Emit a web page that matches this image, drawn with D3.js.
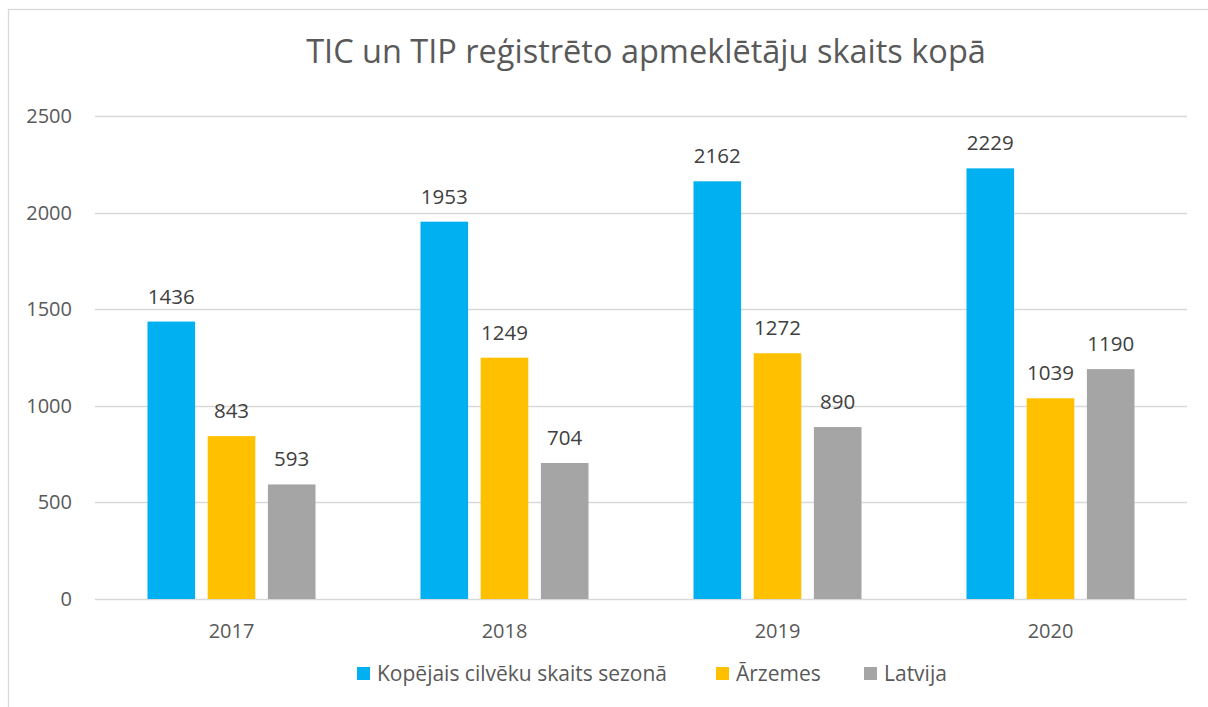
<!DOCTYPE html>
<html>
<head>
<meta charset="utf-8">
<script src="https://cdn.jsdelivr.net/npm/d3@7"></script>
<style>
  html, body { margin: 0; padding: 0; background: #fff; }
  svg { display: block; font-family: "Open Sans", sans-serif; }
</style>
</head>
<body>
<div id="chart"></div>
<script>
var years = ["2017", "2018", "2019", "2020"];
var seriesNames = ["Kopējais cilvēku skaits sezonā", "Ārzemes", "Latvija"];
var totalValues = [1436, 1953, 2162, 2229];
var foreignValues = [843, 1249, 1272, 1039];
var latviaValues = [593, 704, 890, 1190];
var yTicks = [0, 500, 1000, 1500, 2000, 2500];
var colors = ["#00B0F0", "#FFC000", "#A5A5A5"];

var W = 1208, H = 707;
var plot = { left: 95, right: 1187, top: 116, bottom: 599 };

var svg = d3.select("#chart")
    .append("svg")
    .attr("width", W)
    .attr("height", H);

// chart area border
svg.append("rect")
    .attr("x", 8.5)
    .attr("y", 9.5)
    .attr("width", W + 20)
    .attr("height", H + 20)
    .attr("fill", "#fff")
    .attr("stroke", "#d9d9d9")
    .attr("stroke-width", 1.3);

svg.append("text")
    .attr("x", 646)
    .attr("y", 63)
    .attr("text-anchor", "middle")
    .attr("fill", "#595959")
    .attr("font-size", 32.5)
    .text("TIC un TIP reģistrēto apmeklētāju skaits kopā");

var y = d3.scaleLinear()
    .domain([0, 2500])
    .range([plot.bottom, plot.top]);

var x0 = d3.scaleBand()
    .domain(years)
    .range([plot.left, plot.right])
    .paddingInner(0.3846)
    .paddingOuter(0.1923);

var x1 = d3.scaleBand()
    .domain(d3.range(3))
    .range([0, x0.bandwidth()])
    .paddingInner(0.209)
    .paddingOuter(0);

// gridlines
svg.append("g")
    .selectAll("line")
    .data(yTicks)
    .enter()
    .append("line")
    .attr("x1", plot.left)
    .attr("x2", plot.right)
    .attr("y1", function (d) { return Math.round(y(d)) + 0.5; })
    .attr("y2", function (d) { return Math.round(y(d)) + 0.5; })
    .attr("stroke", "#d9d9d9")
    .attr("stroke-width", 1.3);

// y axis labels
var yAxis = svg.append("g")
    .attr("transform", "translate(" + plot.left + ",0)")
    .call(d3.axisLeft(y).tickValues(yTicks).tickSize(0).tickPadding(23).tickFormat(d3.format("d")));
yAxis.select(".domain").remove();
yAxis.selectAll("text")
    .attr("fill", "#595959")
    .attr("font-size", 20)
    .attr("font-family", "Open Sans, sans-serif");

// x axis labels
var xAxis = svg.append("g")
    .attr("transform", "translate(0," + plot.bottom + ")")
    .call(d3.axisBottom(x0).tickSize(0));
xAxis.select(".domain").remove();
xAxis.selectAll("text")
    .attr("dy", null)
    .attr("y", 39)
    .attr("fill", "#595959")
    .attr("font-size", 20)
    .attr("font-family", "Open Sans, sans-serif");

var rows = years.map(function (yr, i) {
    return { year: yr, values: [totalValues[i], foreignValues[i], latviaValues[i]] };
});

var groups = svg.append("g")
    .selectAll("g")
    .data(rows)
    .enter()
    .append("g")
    .attr("transform", function (d) { return "translate(" + x0(d.year) + ",0)"; });

groups.selectAll("rect")
    .data(function (d) { return d.values; })
    .enter()
    .append("rect")
    .attr("x", function (d, i) { return x1(i); })
    .attr("y", function (d) { return y(d); })
    .attr("width", x1.bandwidth())
    .attr("height", function (d) { return plot.bottom - y(d); })
    .attr("fill", function (d, i) { return colors[i]; });

groups.selectAll("text")
    .data(function (d) { return d.values; })
    .enter()
    .append("text")
    .attr("x", function (d, i) { return x1(i) + x1.bandwidth() / 2; })
    .attr("y", function (d) { return y(d) - 18; })
    .attr("text-anchor", "middle")
    .attr("fill", "#404040")
    .attr("font-size", 20.5)
    .text(function (d) { return d; });

// legend
var legendX = [357, 716, 864];
var legend = svg.append("g")
    .selectAll("g")
    .data(seriesNames)
    .enter()
    .append("g")
    .attr("transform", function (d, i) { return "translate(" + legendX[i] + ",667)"; });

legend.append("rect")
    .attr("width", 13)
    .attr("height", 13)
    .attr("fill", function (d, i) { return colors[i]; });

legend.append("text")
    .attr("x", 20)
    .attr("y", 14)
    .attr("fill", "#595959")
    .attr("font-size", 21)
    .text(function (d) { return d; });
</script>
</body>
</html>
